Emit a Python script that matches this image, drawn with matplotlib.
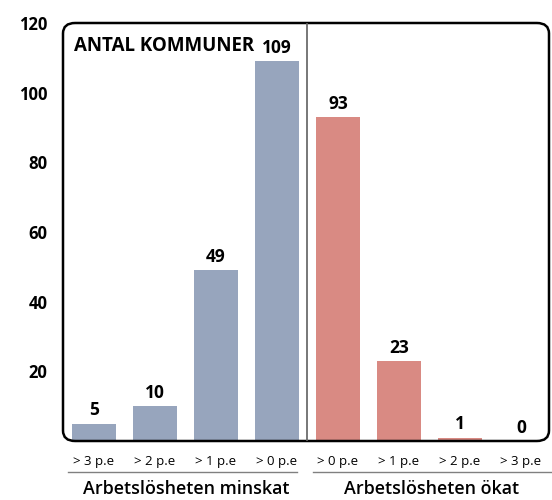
import numpy as np
import matplotlib.pyplot as plt
from matplotlib.patches import FancyBboxPatch

plt.rcParams['font.family'] = ['Open Sans', 'DejaVu Sans']

# data
categories = ['> 3 p.e', '> 2 p.e', '> 1 p.e', '> 0 p.e',
              '> 0 p.e', '> 1 p.e', '> 2 p.e', '> 3 p.e']
counts = [5, 10, 49, 109, 93, 23, 1, 0]
groups = ['Arbetslösheten minskat', 'Arbetslösheten ökat']
yticks = [20, 40, 60, 80, 100, 120]

blue = '#97a5bd'
red = '#d98a83'
colors = [blue] * 4 + [red] * 4

fig = plt.figure(figsize=(5.52, 5.0), dpi=100)
ax = fig.add_axes([63 / 552, 1 - 441 / 500, 486 / 552, 418 / 500])

x = np.arange(len(counts))
ax.bar(x, counts, width=0.72, color=colors, zorder=2)
for xi, v in zip(x, counts):
    ax.text(xi, v + 1.2, str(v), ha='center', va='bottom',
            fontsize=12.5, fontweight='bold')

ax.set_xlim(-0.508, 7.46)
ax.set_ylim(0, 120)
ax.set_yticks(yticks)
ax.set_yticklabels([str(t) for t in yticks], fontsize=12, fontweight='bold')
ax.tick_params(axis='y', length=0, pad=11)
ax.set_xticks([])
for s in ax.spines.values():
    s.set_visible(False)

# rounded frame
frame = FancyBboxPatch((0.0, 0.0), 1.0, 1.0, transform=ax.transAxes,
                       boxstyle='round,pad=0,rounding_size=0.025',
                       fill=False, edgecolor='black', linewidth=1.8,
                       clip_on=False, zorder=3)
ax.add_patch(frame)

# divider
ax.axvline(3.5, color='#606060', linewidth=1.2, zorder=3)

ax.text(0.023, 0.969, 'ANTAL KOMMUNER', transform=ax.transAxes,
        ha='left', va='top', fontsize=13.5, fontweight='bold')

# category labels and group labels under the axis
for xi, lab in zip(x, categories):
    ax.text(xi, -6.0, lab, ha='center', va='center', fontsize=9.5,
            fontweight='medium', clip_on=False)
ax.plot([-0.43, 3.33], [-9.0, -9.0], color='#808080', lw=1.0, clip_on=False)
ax.plot([3.59, 7.5], [-9.0, -9.0], color='#808080', lw=1.0, clip_on=False)
ax.text(1.51, -15.1, groups[0], ha='center', va='baseline', fontsize=12.9,
        fontweight='semibold', clip_on=False)
ax.text(5.54, -15.1, groups[1], ha='center', va='baseline', fontsize=12.9,
        fontweight='semibold', clip_on=False)

fig.savefig('out.png', dpi=100)
